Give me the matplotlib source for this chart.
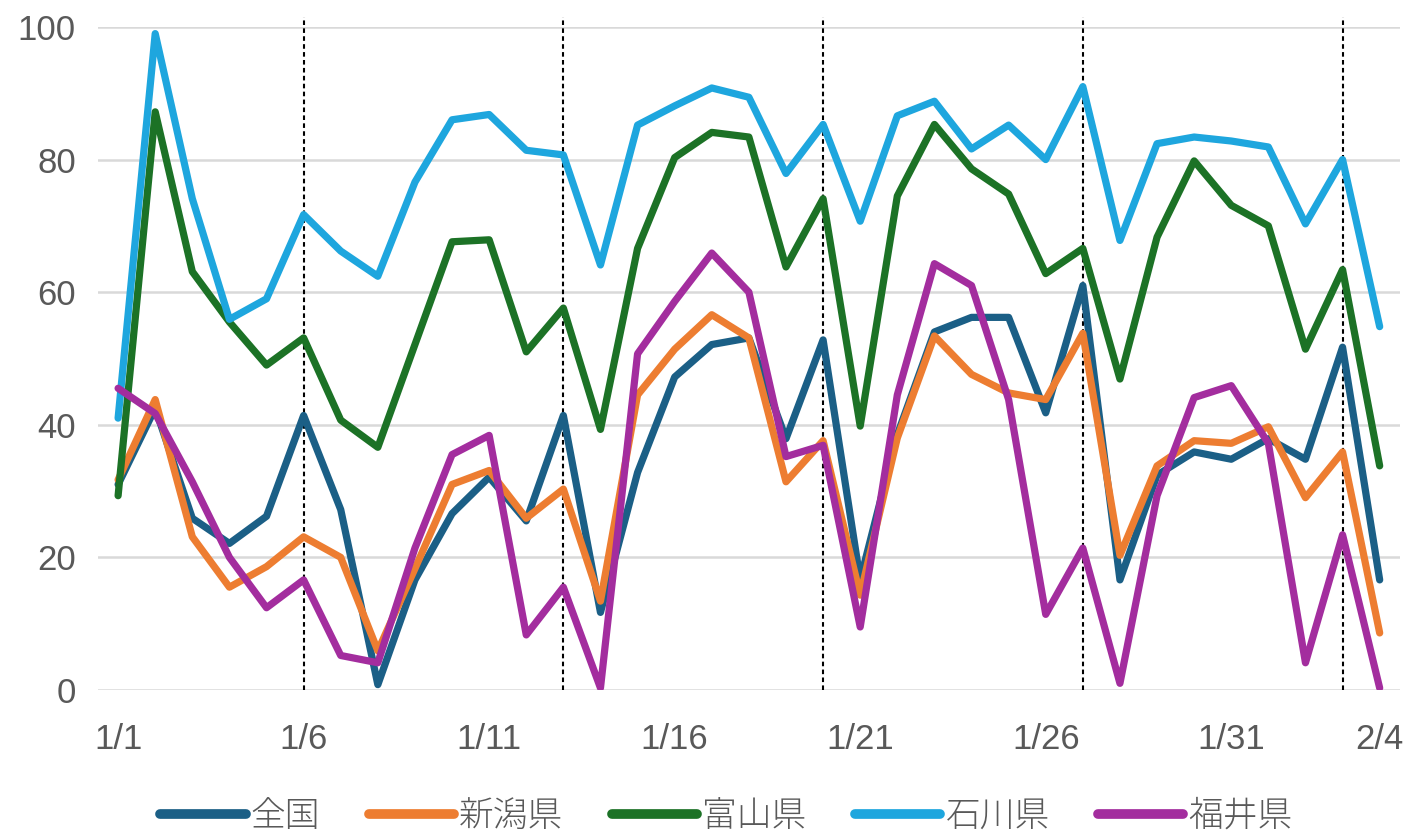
import numpy as np
import matplotlib
matplotlib.use('Agg')
import matplotlib.pyplot as plt

# 日付 (1/1 - 2/4)
dias = ['1/%d' % d for d in range(1, 32)] + ['2/%d' % d for d in range(1, 5)]
etiquetas = ['1/1', '1/6', '1/11', '1/16', '1/21', '1/26', '1/31', '2/4']
domingos = ['1/6', '1/13', '1/20', '1/27', '2/3']

zenkoku = [31.0, 42.5, 25.9, 22.1, 26.2, 41.4, 27.2, 0.8, 16.6, 26.6,
           32.1, 25.5, 41.4, 11.7, 32.8, 47.2, 52.1, 53.1, 37.9, 52.8,
           16.6, 38.5, 54.0, 56.2, 56.2, 41.8, 61.0, 16.6, 32.4, 35.9,
           34.8, 37.9, 34.8, 51.7, 16.6]
niigata = [31.7, 43.8, 23.1, 15.5, 18.6, 23.1, 20.0, 5.9, 18.3, 31.0,
           33.1, 25.9, 30.3, 13.4, 44.5, 51.4, 56.6, 53.1, 31.4, 37.6,
           14.3, 38.0, 53.4, 47.6, 44.8, 43.8, 53.8, 20.3, 33.8, 37.6,
           37.2, 39.7, 29.0, 35.9, 8.6]
toyama = [29.3, 87.2, 63.1, 55.5, 49.0, 53.1, 40.7, 36.6, 52.1, 67.6,
          67.9, 51.0, 57.6, 39.3, 66.6, 80.3, 84.1, 83.4, 63.8, 74.1,
          39.8, 74.5, 85.3, 78.6, 74.8, 62.8, 66.6, 46.9, 68.3, 79.8,
          73.1, 70.0, 51.4, 63.4, 33.8]
ishikawa = [41.0, 99.0, 74.1, 55.9, 59.0, 71.7, 66.2, 62.4, 76.6, 86.0,
            86.8, 81.4, 80.7, 64.1, 85.2, 88.1, 90.8, 89.4, 77.9, 85.3,
            70.7, 86.6, 88.8, 81.6, 85.2, 80.0, 91.0, 67.8, 82.4, 83.4,
            82.8, 81.9, 70.3, 80.0, 54.8]
fukui = [45.5, 41.7, 31.4, 20.0, 12.4, 16.6, 5.2, 4.1, 21.4, 35.5,
         38.4, 8.3, 15.5, 0.3, 50.7, 58.6, 65.9, 60.0, 35.2, 36.9,
         9.5, 44.5, 64.3, 61.0, 43.8, 11.4, 21.4, 1.0, 29.3, 44.1,
         45.9, 37.2, 4.1, 23.4, 0.3]

series = [('全国', zenkoku, '#1b5f86'),
          ('新潟県', niigata, '#ed7d31'),
          ('富山県', toyama, '#1c7226'),
          ('石川県', ishikawa, '#1ea6de'),
          ('福井県', fukui, '#a32d9e')]

plt.rcParams['font.family'] = ['Liberation Sans', 'DejaVu Sans']

x = np.arange(len(dias))
fig = plt.figure(figsize=(14.11, 8.35), dpi=100)
ax = fig.add_axes([0.0695, 0.1737, 0.9225, 0.794])

for y in np.arange(0, 101, 20):
    ax.axhline(y, color='#d9d9d9', lw=1.8, zorder=0)

for d in domingos:
    ax.vlines(dias.index(d), 0, 101.5, colors='black', lw=1.5,
              linestyles=(0, (2.2, 1.6)), zorder=1, clip_on=False)

for nombre, vals, col in series:
    ax.plot(x, vals, color=col, lw=5.2, label=nombre, zorder=2,
            solid_joinstyle='round', solid_capstyle='round')

ax.set_xlim(-0.54, len(dias) - 1 + 0.54)
ax.set_ylim(0, 100)
ax.set_yticks(np.arange(0, 101, 20))
ax.set_xticks([dias.index(e) for e in etiquetas])
ax.set_xticklabels(etiquetas)
ax.tick_params(length=0, labelsize=25, labelcolor='#595959')
ax.tick_params(axis='x', pad=24)
ax.tick_params(axis='y', pad=16)
for s in ax.spines.values():
    s.set_visible(False)

leg = fig.legend(loc='lower center', bbox_to_anchor=(0.515, -0.036), ncol=5,
                 frameon=False, handlelength=2.45, handletextpad=0.15,
                 columnspacing=1.4,
                 prop={'family': 'Noto Sans CJK JP', 'size': 25, 'weight': 'light'})
for t in leg.get_texts():
    t.set_color('#595959')
for h in leg.get_lines():
    h.set_linewidth(7)

fig.savefig('out.png', dpi=100)
